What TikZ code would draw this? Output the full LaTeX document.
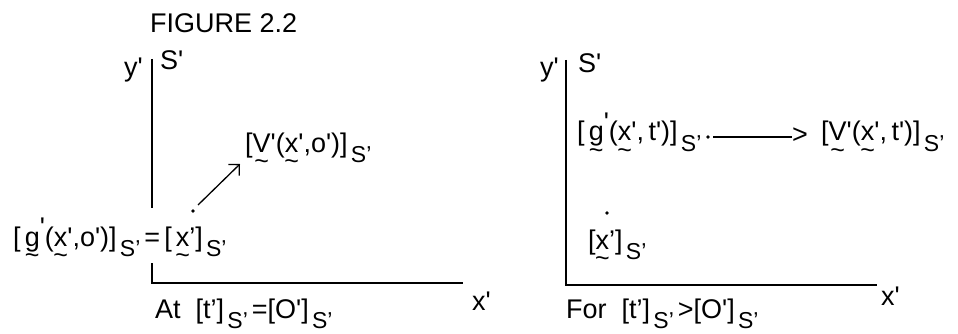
\documentclass[tikz,border=0pt]{standalone}
\usepackage{fontspec}
\setmainfont{Liberation Sans}
\usetikzlibrary{arrows.meta}
\newsavebox\ulbox
\newcommand\ul[1]{\sbox\ulbox{#1}\usebox\ulbox\llap{\makebox[\wd\ulbox]{\raisebox{-0.66em}[0pt][0pt]{\fontsize{25pt}{25pt}\selectfont\textasciitilde}}}}
\newcommand\sbs[1]{\hspace{0.12em}\raisebox{-0.4em}{\fontsize{23pt}{23pt}\selectfont #1}}
\newcommand\q{\textquotesingle}
\newcommand\lbr{[\hspace{0.15em}}
\begin{document}
\begin{tikzpicture}[x=1pt,y=-1pt,
  lbl/.style={anchor=base west,inner sep=0pt,font=\fontsize{27pt}{32pt}\selectfont},
  axis/.style={line width=2pt},
  arr/.style={line width=1.3pt},
  dotm/.style={circle,fill=black,inner sep=0pt,minimum size=3.6pt}]
\useasboundingbox (0,0) rectangle (958,334);
% title
\node[lbl] (title) at (150,33) {FIGURE 2.2};
% ---------- left frame ----------
\coordinate (lt) at (152,59);
\coordinate (lb1) at (152,208);
\coordinate (lb2) at (152,263);
\coordinate (lo) at (152,283);
\coordinate (lr) at (463,283);
\draw[axis] (lt) -- (lb1);
\draw[axis] (lb2) -- (lo) -- (lr);
\node[lbl] (ly) at (124,77) {y\q};
\node[lbl] (lS) at (160,70) {S\q};
\node[lbl] (lx) at (472,310) {x\q};
\node[lbl] (lg) at (13,246) {\lbr\ul{g}\raisebox{0.35em}{\q}(\ul{x}\q,o\q)]\sbs{S’}\hspace{0.15em}=\hspace{0.15em}\lbr\ul{x}’]\sbs{S’}};
\node[dotm] (ldot) at (193,211) {};
\coordinate (la1) at (198,205);
\coordinate (la2) at (240,164);
\draw[arr,-{Straight Barb[angle=90:11pt,line width=1.3pt]}] (la1) -- (la2);
\node[lbl] (lV) at (245,152) {[\ul{V}\q(\ul{x}\q,o\q)]\sbs{S’}};
\node[lbl] (lat) at (155,318) {At\ \ [t’]\sbs{S’}\hspace{0.15em}=[O\q]\sbs{S’}};
% ---------- right frame ----------
\coordinate (rt) at (566,60);
\coordinate (ro) at (566,285);
\coordinate (rr) at (877,285);
\draw[axis] (rt) -- (ro) -- (rr);
\node[lbl] (ry) at (540,77) {y\q};
\node[lbl] (rS) at (578,73) {S\q};
\node[lbl] (rx) at (881,305) {x\q};
\node[lbl] (rg) at (577,141) {\lbr\ul{g}\raisebox{0.35em}{\q}(\ul{x}\q,\,t\q)]\sbs{S’}};
\node[dotm] (rdot) at (708,137) {};
\node[lbl] (gt) at (792,143) {>};
\coordinate (ra1) at (713,137);
\draw[arr] (ra1) -- (gt.west |- ra1);
\node[lbl] (rV) at (821,141) {[\ul{V}\q(\ul{x}\q,\,t\q)]\sbs{S’}};
\node[dotm] (rdot2) at (607,213) {};
\node[lbl] (rxx) at (588,249) {[\ul{x}’]\sbs{S’}};
\node[lbl] (rfor) at (566,318) {For\ \ [t’]\sbs{S’}\hspace{0.15em}>[O\q]\sbs{S’}};
\end{tikzpicture}
\end{document}
